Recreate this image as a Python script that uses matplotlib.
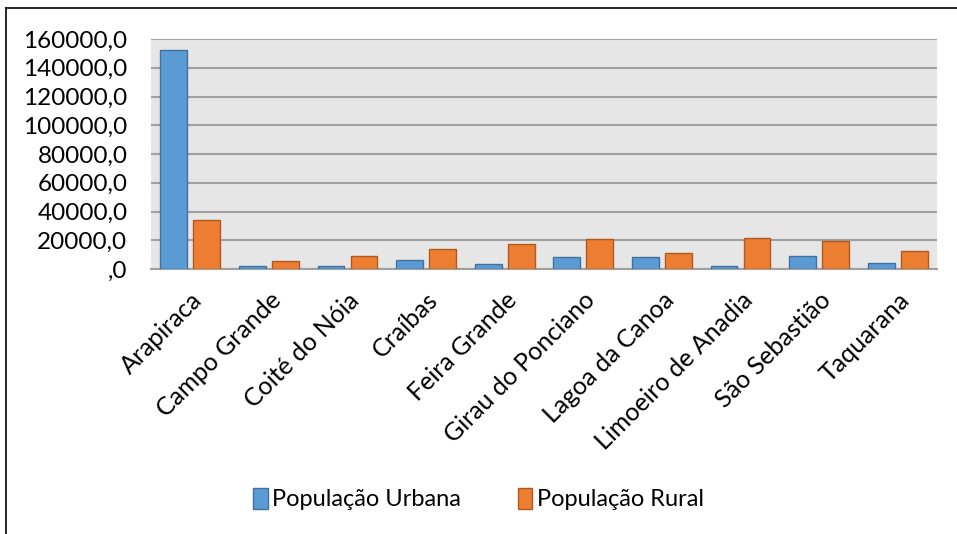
import numpy as np
import matplotlib.pyplot as plt
from matplotlib.lines import Line2D

municipios = ['Arapiraca', 'Campo Grande', 'Coité do Nóia', 'Craíbas', 'Feira Grande',
              'Girau do Ponciano', 'Lagoa da Canoa', 'Limoeiro de Anadia',
              'São Sebastião', 'Taquarana']
urbana = [152400, 2300, 2300, 6500, 3300, 8600, 8600, 1900, 9300, 4200]
rural = [33900, 5300, 9300, 13900, 17400, 20600, 10900, 21800, 19500, 12500]
yticks = [0, 20000, 40000, 60000, 80000, 100000, 120000, 140000, 160000]

plt.rcParams['font.family'] = ['Lato', 'DejaVu Sans']

fig = plt.figure(figsize=(9.57, 5.34), dpi=100)
ax = fig.add_axes([151 / 957, 1 - 269 / 534, 786 / 957, 230 / 534])

x = np.arange(len(municipios))
w = 0.34
ax.bar(x - 0.21, urbana, w, color='#5B9BD5', edgecolor='#41719C', linewidth=1,
       label='População Urbana', zorder=3)
ax.bar(x + 0.21, rural, w, color='#ED7D31', edgecolor='#AE5A21', linewidth=1,
       label='População Rural', zorder=3)

ax.set_facecolor('#E6E6E6')
ax.set_xlim(-0.5, len(municipios) - 0.5)
ax.set_ylim(0, 160000)
ax.set_yticks(yticks)
ax.set_yticklabels([f'{v},0' if v else ',0' for v in yticks], fontsize=17.5)
ax.yaxis.grid(True, color='#A0A0A0', linewidth=1.5, zorder=0)
ax.set_axisbelow(True)
ax.tick_params(axis='y', length=0, pad=17)
ax.tick_params(axis='x', length=0, pad=14)
ax.set_xticks(x)
ax.set_xticklabels(municipios, rotation=45, ha='right', rotation_mode='anchor', fontsize=18)
for s in ['top', 'right', 'left']:
    ax.spines[s].set_visible(False)
ax.spines['bottom'].set_color('#A0A0A0')
ax.spines['bottom'].set_linewidth(1.5)

fig.legend(loc='center', bbox_to_anchor=(0.5, 1 - 499 / 534), ncol=2, frameon=False,
           fontsize=17, handlelength=0.6, handleheight=1.0, handletextpad=0.2,
           columnspacing=2.4)

# outer frame (top and left only visible in the reference)
fig.add_artist(Line2D([6 / 957, 1], [1 - 8 / 534, 1 - 8 / 534], color='black', linewidth=1.2))
fig.add_artist(Line2D([6 / 957, 6 / 957], [0, 1 - 8 / 534], color='black', linewidth=1.2))

fig.savefig('out.png', dpi=100)
